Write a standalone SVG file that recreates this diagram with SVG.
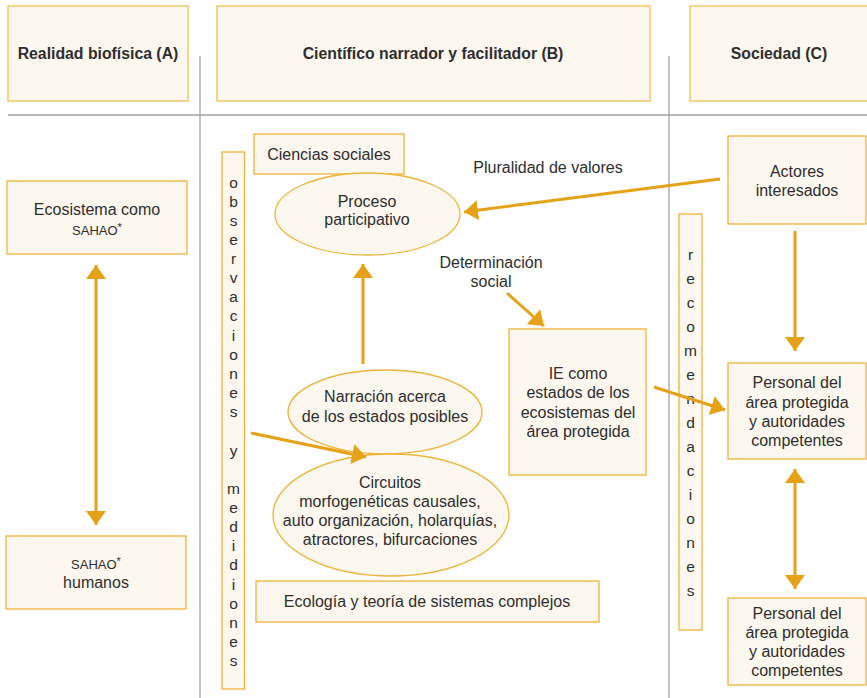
<svg xmlns="http://www.w3.org/2000/svg" width="867" height="698" viewBox="0 0 867 698">
<style>
.hdr{fill:#fcf7ef;stroke:#f3c766;stroke-width:1.5}
.box{fill:#fcf7ef;stroke:#eeb43a;stroke-width:1.3}
.ell{fill:#fcf7ef;stroke:#eeb43a;stroke-width:1.3}
.grid{stroke:#a3a3a3;stroke-width:1.3;fill:none}
.con{stroke:#e6a216;stroke-width:3;fill:none}
text{font-family:"Liberation Sans",Arial,sans-serif;fill:#2e2e2e;font-size:16px;text-anchor:middle}
.b{font-weight:bold;font-size:15.8px}
.sm{font-size:13px}
.v{font-size:15.5px}
</style>
<defs>
<marker id="ah" markerUnits="userSpaceOnUse" markerWidth="15" markerHeight="20" refX="14" refY="10" orient="auto-start-reverse" viewBox="0 0 15 20">
<path d="M0,0 L14,10 L0,20 z" fill="#e6a216"/>
</marker>
</defs>

<g id="grid">
<line class="grid" x1="8" y1="115" x2="867" y2="115"/>
<line class="grid" x1="200" y1="56" x2="200" y2="698"/>
<line class="grid" x1="669" y1="56" x2="669" y2="698"/>
</g>

<g id="hdrA"><rect class="hdr" x="8" y="6" width="180" height="95"/><text class="b" x="98" y="59">Realidad biofísica (A)</text></g>
<g id="hdrB"><rect class="hdr" x="217" y="6" width="433" height="95"/><text class="b" x="433" y="59">Científico narrador y facilitador (B)</text></g>
<g id="hdrC"><rect class="hdr" x="690" y="6" width="180" height="95"/><text class="b" x="779" y="59">Sociedad (C)</text></g>

<g id="ecosistema"><rect class="box" x="7" y="181" width="180" height="73"/>
<text x="97" y="215">Ecosistema como</text>
<text class="sm" x="97" y="235">SAHAO<tspan font-size="11" dy="-4">*</tspan></text></g>

<g id="sahao"><rect class="box" x="6" y="536" width="180" height="73"/>
<text class="sm" x="96" y="569">SAHAO<tspan font-size="11" dy="-4">*</tspan></text>
<text x="96" y="588">humanos</text></g>

<g id="observaciones"><rect class="box" x="222" y="152" width="22.5" height="537"/>
<text class="v" x="233.5" y="188">o</text>
<text class="v" x="233.5" y="207">b</text>
<text class="v" x="233.5" y="226">s</text>
<text class="v" x="233.5" y="245">e</text>
<text class="v" x="233.5" y="264">r</text>
<text class="v" x="233.5" y="283">v</text>
<text class="v" x="233.5" y="302">a</text>
<text class="v" x="233.5" y="321">c</text>
<text class="v" x="233.5" y="341">i</text>
<text class="v" x="233.5" y="360">o</text>
<text class="v" x="233.5" y="379">n</text>
<text class="v" x="233.5" y="398">e</text>
<text class="v" x="233.5" y="417">s</text>
<text class="v" x="233.5" y="456">y</text>
<text class="v" x="233.5" y="494">m</text>
<text class="v" x="233.5" y="513">e</text>
<text class="v" x="233.5" y="532">d</text>
<text class="v" x="233.5" y="551">i</text>
<text class="v" x="233.5" y="570">d</text>
<text class="v" x="233.5" y="590">i</text>
<text class="v" x="233.5" y="609">o</text>
<text class="v" x="233.5" y="628">n</text>
<text class="v" x="233.5" y="647">e</text>
<text class="v" x="233.5" y="666">s</text></g>

<g id="ciencias"><rect class="box" x="254" y="134" width="150" height="40"/><text x="329" y="160">Ciencias sociales</text></g>

<g id="proceso"><ellipse class="ell" cx="367.5" cy="214" rx="92.5" ry="41"/>
<text x="367" y="207">Proceso</text><text x="367" y="225">participativo</text></g>

<g id="pluralidad"><text x="548" y="173">Pluralidad de valores</text></g>
<g id="determinacion"><text x="491" y="268">Determinación</text><text x="491" y="287">social</text></g>

<g id="narracion"><ellipse class="ell" cx="385" cy="412" rx="97" ry="42"/>
<text x="385" y="402">Narración acerca</text><text x="385" y="422">de los estados posibles</text></g>

<g id="circuitos"><ellipse class="ell" cx="391" cy="515" rx="118" ry="61"/>
<text x="390" y="488">Circuitos</text>
<text x="390" y="507">morfogenéticas causales,</text>
<text x="390" y="526">auto organización, holarquías,</text>
<text x="390" y="545">atractores, bifurcaciones</text></g>

<g id="ecologia"><rect class="box" x="256" y="581" width="343" height="41"/><text x="427" y="607">Ecología y teoría de sistemas complejos</text></g>

<g id="ie"><rect class="box" x="509" y="329" width="137" height="146"/>
<text x="578" y="379">IE como</text>
<text x="578" y="398">estados de los</text>
<text x="578" y="418">ecosistemas del</text>
<text x="578" y="437">área protegida</text></g>

<g id="recomendaciones"><rect class="box" x="679" y="214" width="23" height="416"/>
<text class="v" x="690.5" y="260">r</text>
<text class="v" x="690.5" y="284">e</text>
<text class="v" x="690.5" y="308">c</text>
<text class="v" x="690.5" y="332">o</text>
<text class="v" x="690.5" y="356">m</text>
<text class="v" x="690.5" y="380">e</text>
<text class="v" x="690.5" y="404">n</text>
<text class="v" x="690.5" y="428">d</text>
<text class="v" x="690.5" y="452">a</text>
<text class="v" x="690.5" y="476">c</text>
<text class="v" x="690.5" y="500">i</text>
<text class="v" x="690.5" y="524">o</text>
<text class="v" x="690.5" y="548">n</text>
<text class="v" x="690.5" y="572">e</text>
<text class="v" x="690.5" y="596">s</text></g>

<g id="actores"><rect class="box" x="728" y="136" width="138" height="88"/>
<text x="797" y="177">Actores</text><text x="797" y="196">interesados</text></g>

<g id="personal1"><rect class="box" x="728" y="363" width="138" height="96"/>
<text x="797" y="388">Personal del</text>
<text x="797" y="408">área protegida</text>
<text x="797" y="427">y autoridades</text>
<text x="797" y="446">competentes</text></g>

<g id="personal2"><rect class="box" x="728" y="598" width="138" height="87"/>
<text x="797" y="619">Personal del</text>
<text x="797" y="638">área protegida</text>
<text x="797" y="657">y autoridades</text>
<text x="797" y="676">competentes</text></g>

<g id="connectors">
<line class="con" x1="96" y1="265" x2="96" y2="525" marker-start="url(#ah)" marker-end="url(#ah)"/>
<line class="con" x1="720" y1="179" x2="464" y2="212" marker-end="url(#ah)"/>
<line class="con" x1="507" y1="293" x2="544" y2="326" marker-end="url(#ah)"/>
<line class="con" x1="363" y1="364" x2="363" y2="264" marker-end="url(#ah)"/>
<line class="con" x1="251" y1="433" x2="366" y2="457" marker-end="url(#ah)"/>
<line class="con" x1="654" y1="387" x2="725" y2="410" marker-end="url(#ah)"/>
<line class="con" x1="795" y1="231" x2="795" y2="351" marker-end="url(#ah)"/>
<line class="con" x1="795" y1="469" x2="795" y2="589" marker-start="url(#ah)" marker-end="url(#ah)"/>
</g>
</svg>
